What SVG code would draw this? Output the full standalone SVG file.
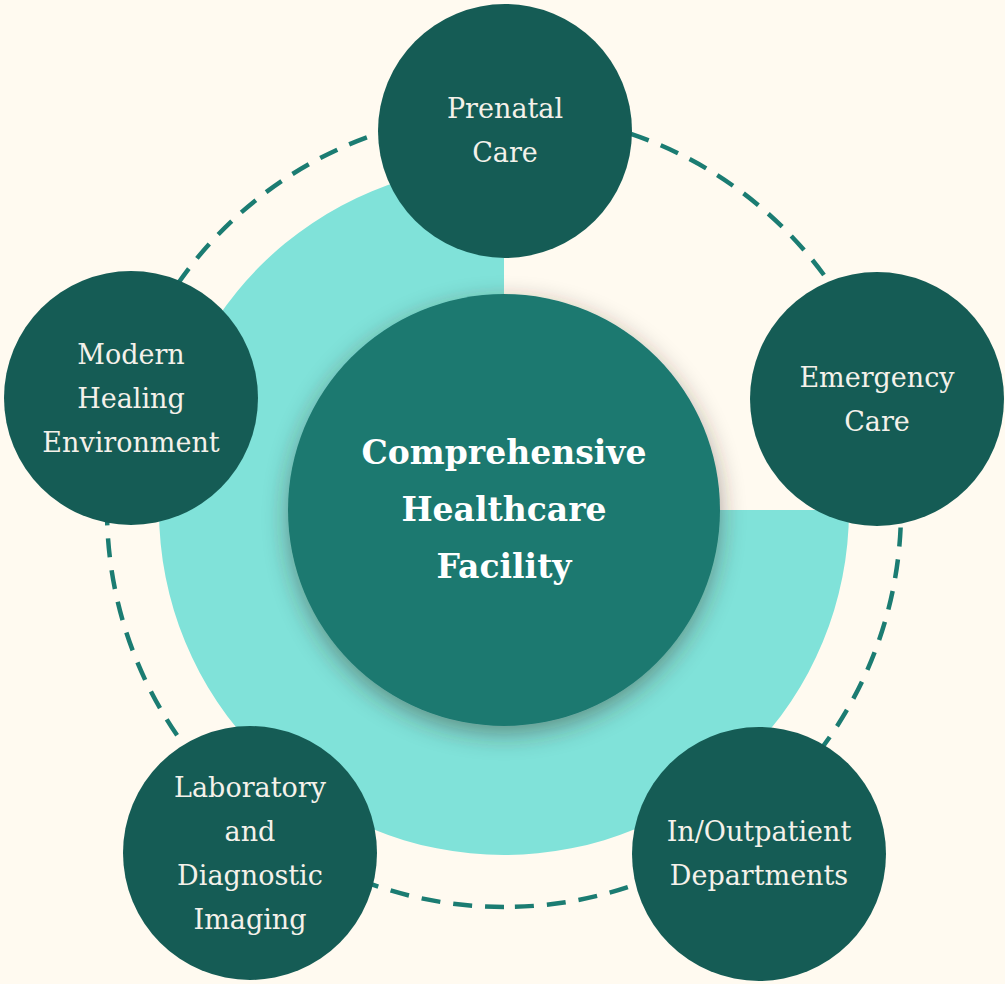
<svg xmlns="http://www.w3.org/2000/svg" width="1005" height="984" viewBox="0 0 1005 984">
<defs>
<style>
.node{fill:#155C55}
.lbl{font-family:"DejaVu Serif",serif;font-size:27px;fill:#F4F1EA;text-anchor:middle}
.clbl{font-family:"DejaVu Serif",serif;font-size:33px;font-weight:bold;fill:#FFFFFF;text-anchor:middle}
.ring{fill:none;stroke:#1B7C72;stroke-width:4.5;stroke-dasharray:19 13}
</style>
<filter id="sh" x="-30%" y="-30%" width="160%" height="160%">
<feDropShadow dx="0" dy="8" stdDeviation="12" flood-color="#3a2a20" flood-opacity="0.45"/>
</filter>
</defs>
<rect width="1005" height="984" fill="#FFFAF0"/>
<path d="M504,510 L504,165 A345,345 0 1 0 849,510 Z" fill="#80E2D9"/>
<g id="connectors">
<path class="ring" d="M504,907 A397,397 0 1 1 504.01,907"/>
</g>
<g id="center">
<circle cx="504" cy="510" r="216" fill="#1B7970" filter="url(#sh)"/>
<text class="clbl" x="504" y="464">Comprehensive</text>
<text class="clbl" x="504" y="521">Healthcare</text>
<text class="clbl" x="504" y="578">Facility</text>
</g>
<g id="prenatal">
<circle class="node" cx="505" cy="131" r="127"/>
<text class="lbl" x="505" y="118">Prenatal</text>
<text class="lbl" x="505" y="162">Care</text>
</g>
<g id="emergency">
<circle class="node" cx="877" cy="399" r="127"/>
<text class="lbl" x="877" y="387">Emergency</text>
<text class="lbl" x="877" y="431">Care</text>
</g>
<g id="outpatient">
<circle class="node" cx="759" cy="854" r="127"/>
<text class="lbl" x="759" y="841">In/Outpatient</text>
<text class="lbl" x="759" y="885">Departments</text>
</g>
<g id="laboratory">
<circle class="node" cx="250" cy="853" r="127"/>
<text class="lbl" x="250" y="797">Laboratory</text>
<text class="lbl" x="250" y="841">and</text>
<text class="lbl" x="250" y="885">Diagnostic</text>
<text class="lbl" x="250" y="929">Imaging</text>
</g>
<g id="healing">
<circle class="node" cx="131" cy="398" r="127"/>
<text class="lbl" x="131" y="364">Modern</text>
<text class="lbl" x="131" y="408">Healing</text>
<text class="lbl" x="131" y="452">Environment</text>
</g>
</svg>
